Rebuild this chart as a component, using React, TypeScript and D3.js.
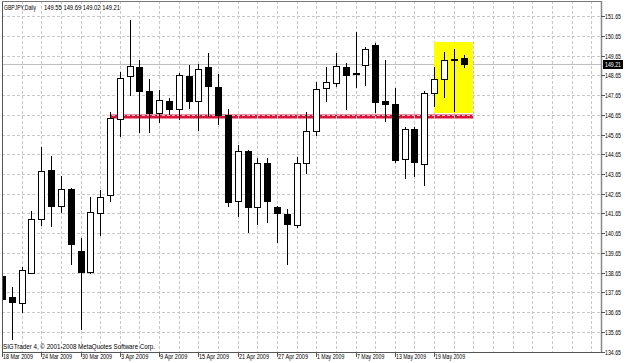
import React, { useEffect } from 'react';
import * as d3 from 'd3';

const dates = [
  '2009-03-18', '2009-03-19', '2009-03-20', '2009-03-23', '2009-03-24', '2009-03-25', '2009-03-26', '2009-03-27', '2009-03-30', '2009-03-31',
  '2009-04-01', '2009-04-02', '2009-04-03', '2009-04-06', '2009-04-07', '2009-04-08', '2009-04-09', '2009-04-10', '2009-04-13', '2009-04-14',
  '2009-04-15', '2009-04-16', '2009-04-17', '2009-04-20', '2009-04-21', '2009-04-22', '2009-04-23', '2009-04-24', '2009-04-27', '2009-04-28',
  '2009-04-29', '2009-04-30', '2009-05-01', '2009-05-04', '2009-05-05', '2009-05-06', '2009-05-07', '2009-05-08', '2009-05-11', '2009-05-12',
  '2009-05-13', '2009-05-14', '2009-05-15', '2009-05-18', '2009-05-19', '2009-05-20', '2009-05-21', '2009-05-22',
];

const opens = [
  138.48, 137.42, 137.10, 138.65, 141.37, 143.86, 142.05, 142.89, 139.73, 138.68,
  141.69, 142.59, 146.45, 148.62, 149.09, 147.88, 146.73, 147.37, 146.93, 148.62,
  147.35, 149.09, 148.05, 146.63, 142.27, 144.80, 141.96, 144.20, 141.98, 141.64,
  141.07, 144.21, 145.83, 148.03, 148.28, 149.06, 148.77, 149.18, 150.21, 147.34,
  147.20, 144.40, 145.92, 144.18, 147.75, 148.46, 149.42, 149.55,
];
const highs = [
  138.99, 137.92, 138.92, 141.79, 145.01, 144.57, 143.55, 142.94, 140.42, 142.47,
  142.84, 146.81, 148.83, 151.46, 149.43, 148.47, 147.91, 147.49, 148.76, 149.18,
  149.22, 149.80, 148.71, 146.96, 145.12, 144.87, 144.45, 144.48, 142.03, 141.86,
  144.53, 146.80, 148.33, 149.09, 149.77, 149.30, 150.87, 150.11, 150.31, 149.43,
  148.01, 146.05, 146.05, 147.88, 149.09, 149.82, 149.98, 149.69,
];
const lows = [
  136.96, 135.24, 136.59, 138.58, 141.02, 140.95, 141.69, 139.04, 135.74, 138.58,
  140.52, 142.25, 145.54, 147.61, 145.75, 145.72, 146.25, 146.64, 146.39, 146.95,
  145.83, 146.56, 146.14, 141.99, 141.49, 140.65, 141.07, 141.15, 140.14, 139.04,
  140.90, 143.64, 145.58, 147.32, 148.08, 146.90, 148.03, 148.12, 146.73, 146.31,
  144.20, 143.38, 143.52, 143.06, 147.04, 147.52, 146.81, 149.02,
];
const closes = [
  137.31, 137.16, 138.77, 141.39, 143.81, 142.05, 142.89, 140.09, 138.70, 141.73,
  142.49, 146.48, 148.52, 149.13, 147.88, 146.73, 147.41, 146.95, 148.66, 147.37,
  148.98, 148.13, 146.64, 142.25, 144.80, 141.99, 144.20, 142.27, 141.66, 141.10,
  144.21, 145.83, 147.96, 148.30, 149.13, 148.67, 148.71, 149.98, 147.30, 147.20,
  144.36, 145.92, 144.25, 147.75, 148.46, 149.42, 149.50, 149.21,
];

const priceLevels = [
  151.65, 150.65, 149.65, 148.65, 147.65, 146.65, 145.65, 144.65, 143.65,
  142.65, 141.65, 140.65, 139.65, 138.65, 137.65, 136.65, 135.65, 134.65,
];

const symbolLabel = 'GBPJPY,Daily';
const copyrightLabel = 'SIGTrader 4, \u00a9 2001-2008 MetaQuotes Software Corp.';

// annotations
const supportLevel = 146.6;
const supportStartIdx = 11;
const supportEndIdx = 48;
const boxStartIdx = 44;
const boxEndIdx = 48;
const boxHigh = 150.33;
const boxLow = 146.73;

const FONT = "'Liberation Sans', Arial, sans-serif";

export default function App() {
  useEffect(() => {
    document.body.style.margin = '0';
  }, []);

  const W = 625;
  const H = 363;
  const left = 2;
  const right = 601;
  const top = 1;
  const bottom = 352;

  const x = d3.scaleLinear().domain([0, 1]).range([2, 11.82]);
  const y = d3.scaleLinear().domain([134.65, 151.65]).range([351.5, 16.3]);
  const px = (i: number) => Math.round(x(i));
  const py = (p: number) => Math.round(y(p));

  const fmt = d3.timeFormat('%-d %b %Y');
  const parse = d3.timeParse('%Y-%m-%d');

  const gridIdx = d3.range(0, 80, 2).filter((i) => x(i) < right - 1);
  const labelIdx = d3.range(0, dates.length, 4);
  const last = dates.length - 1;
  const ohlcLabel = [opens[last], highs[last], lows[last], closes[last]].map((v) => v.toFixed(2)).join(' ');

  return (
    <svg
      width={W}
      height={H}
      style={{ position: 'fixed', left: 0, top: 0, display: 'block', background: '#fff' }}
      fontFamily={FONT}
    >
      <defs>
        <clipPath id="plot">
          <rect x={left} y={top} width={right - left} height={bottom - top} />
        </clipPath>
      </defs>
      <rect x={0} y={0} width={W} height={H} fill="#fff" />

      <g clipPath="url(#plot)">
        {/* support line */}
        <rect
          x={px(supportStartIdx)}
          y={py(supportLevel) - 1.5}
          width={px(supportEndIdx) - px(supportStartIdx)}
          height={4}
          fill="#dc143c"
        />
        {/* grid */}
        {priceLevels.slice(0, -1).map((p) => (
          <line
            key={'h' + p}
            x1={left}
            x2={right}
            y1={py(p) + 0.5}
            y2={py(p) + 0.5}
            stroke="#c8c8c8"
            strokeDasharray="3,2"
          />
        ))}
        {gridIdx.map((i) => (
          <line
            key={'v' + i}
            x1={px(i) + 0.5}
            x2={px(i) + 0.5}
            y1={top}
            y2={bottom}
            stroke="#c8c8c8"
            strokeDasharray="3,2"
          />
        ))}
        {/* bid line */}
        <line
          x1={left}
          x2={right}
          y1={py(closes[last]) + 0.5}
          y2={py(closes[last]) + 0.5}
          stroke="#c0c0c0"
        />
        {/* highlight box */}
        <rect
          x={px(boxStartIdx)}
          y={py(boxHigh)}
          width={px(boxEndIdx) - px(boxStartIdx)}
          height={py(boxLow) - py(boxHigh)}
          fill="#ffff00"
        />
        {/* candles */}
        {dates.map((d, i) => {
          const cx = px(i);
          const o = opens[i];
          const c = closes[i];
          const bull = c >= o;
          const yTop = py(Math.max(o, c));
          const yBot = py(Math.min(o, c));
          return (
            <g key={d}>
              <line x1={cx + 0.5} x2={cx + 0.5} y1={py(highs[i])} y2={py(lows[i])} stroke="#000" />
              {yBot - yTop < 1 ? (
                <line x1={cx - 3} x2={cx + 4} y1={yTop + 0.5} y2={yTop + 0.5} stroke="#000" />
              ) : (
                <rect
                  x={cx - 2.5}
                  y={yTop + 0.5}
                  width={6}
                  height={yBot - yTop}
                  fill={bull ? '#fff' : '#000'}
                  stroke="#000"
                />
              )}
            </g>
          );
        })}
      </g>

      {/* frame */}
      <line x1={left + 0.5} x2={left + 0.5} y1={top} y2={bottom + 1} stroke="#555" />
      <line x1={left} x2={right + 1} y1={top + 0.5} y2={top + 0.5} stroke="#777" />
      <line x1={left} x2={right + 1} y1={bottom + 0.5} y2={bottom + 0.5} stroke="#555" />
      <line x1={right + 0.5} x2={right + 0.5} y1={top} y2={bottom + 1} stroke="#888" strokeWidth={1.5} />

      {/* price axis */}
      {priceLevels.map((p) => (
        <g key={'pl' + p}>
          <line x1={right} x2={right + 4} y1={py(p) + 0.5} y2={py(p) + 0.5} stroke="#555" />
          <text x={605} y={py(p) + 3} fontSize={7} fill="#000" textLength={16} lengthAdjust="spacingAndGlyphs">
            {p.toFixed(2)}
          </text>
        </g>
      ))}
      <rect x={603} y={py(closes[last]) - 4} width={20} height={9} fill="#000" />
      <text
        x={605}
        y={py(closes[last]) + 3}
        fontSize={7}
        fill="#fff"
        textLength={16}
        lengthAdjust="spacingAndGlyphs"
      >
        {closes[last].toFixed(2)}
      </text>

      {/* date axis */}
      {labelIdx.map((i) => {
        const label = fmt(parse(dates[i]) as Date);
        return (
          <g key={'dl' + i}>
            <line x1={px(i) + 0.5} x2={px(i) + 0.5} y1={bottom} y2={bottom + 5} stroke="#555" />
            <text
              x={px(i) + 1}
              y={359}
              fontSize={7}
              fill="#000"
              textLength={label.length * 2.73}
              lengthAdjust="spacingAndGlyphs"
            >
              {label}
            </text>
          </g>
        );
      })}

      {/* header */}
      <text x={4} y={9.5} fontSize={7} fill="#000" textLength={32} lengthAdjust="spacingAndGlyphs">
        {symbolLabel}
      </text>
      <text x={44} y={9.5} fontSize={7} fill="#000" textLength={76} lengthAdjust="spacingAndGlyphs">
        {ohlcLabel}
      </text>
      <text x={3} y={348.5} fontSize={7} fill="#000" textLength={152} lengthAdjust="spacingAndGlyphs">
        {copyrightLabel}
      </text>
    </svg>
  );
}
